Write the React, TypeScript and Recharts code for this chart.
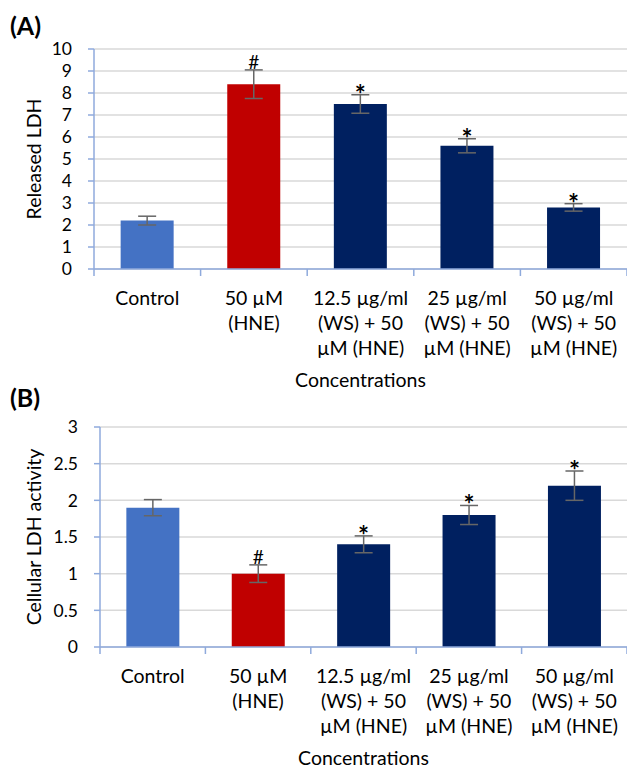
import React from "react";
import { BarChart, Bar, XAxis, YAxis, CartesianGrid, Cell, ErrorBar, LabelList } from "recharts";

const categories = [
  "Control",
  "50 µM (HNE)",
  "12.5 µg/ml (WS) + 50 µM (HNE)",
  "25 µg/ml (WS) + 50 µM (HNE)",
  "50 µg/ml (WS) + 50 µM (HNE)",
];
const categoryLines = [
  ["Control"],
  ["50 µM", "(HNE)"],
  ["12.5 µg/ml", "(WS) + 50", "µM (HNE)"],
  ["25 µg/ml", "(WS) + 50", "µM (HNE)"],
  ["50 µg/ml", "(WS) + 50", "µM (HNE)"],
];
const releasedLDH = [2.2, 8.4, 7.5, 5.6, 2.8];
const releasedErr = [0.2, 0.65, 0.42, 0.32, 0.17];
const cellularLDH = [1.9, 1.0, 1.4, 1.8, 2.2];
const cellularErr = [0.11, 0.12, 0.115, 0.13, 0.2];
const marksA = ["", "#", "*", "*", "*"];
const marksB = ["", "#", "*", "*", "*"];
const ticksA = [0, 1, 2, 3, 4, 5, 6, 7, 8, 9, 10];
const ticksB = [0, 0.5, 1, 1.5, 2, 2.5, 3];

const barColors = ["#4472C4", "#C00000", "#002060", "#002060", "#002060"];
const AXIS_COLOR = "#8FAADC";
const GRID_COLOR = "#D9D9D9";
const FONT = "Lato, 'Open Sans', sans-serif";
const CHART_W = 627;

const dataA = categories.map((name, i) => ({ name, value: releasedLDH[i], err: releasedErr[i], mark: marksA[i] }));
const dataB = categories.map((name, i) => ({ name, value: cellularLDH[i], err: cellularErr[i], mark: marksB[i] }));

function makeTick(plotW: number) {
  return (props: any) => {
    const { x, y, payload, index } = props;
    const idx = typeof index === "number" ? index : payload.index;
    const bw = plotW / categories.length;
    const lines = categoryLines[idx] || [String(payload.value)];
    return (
      <g>
        <line x1={x - bw / 2} x2={x - bw / 2} y1={y} y2={y + 7} stroke={AXIS_COLOR} strokeWidth={1.5} />
        {idx === categories.length - 1 && (
          <line x1={x + bw / 2} x2={x + bw / 2} y1={y} y2={y + 7} stroke={AXIS_COLOR} strokeWidth={1.5} />
        )}
        <text textAnchor="middle" fontFamily={FONT} fontSize={19.5} fill="#000">
          {lines.map((l, i) => (
            <tspan key={i} x={x} y={y + 36 + 25 * i}>
              {l}
            </tspan>
          ))}
        </text>
      </g>
    );
  };
}

function makeMark(vals: number[], errs: number[]) {
  return (props: any) => {
    const vb = props.viewBox || {};
    const x = props.x ?? vb.x;
    const y = props.y ?? vb.y;
    const width = props.width ?? vb.width;
    const height = props.height ?? vb.height;
    const idx = props.index;
    const value = props.value;
    if (!value) return null;
    const pxPerUnit = height / vals[idx];
    const errTop = y - errs[idx] * pxPerUnit;
    const isStar = value === "*";
    return (
      <text
        x={x + width / 2}
        y={isStar ? errTop + 9 : errTop - 1}
        textAnchor="middle"
        fontFamily={FONT}
        fontSize={isStar ? 26 : 19}
        fontWeight={isStar ? 700 : 400}
        fill="#000"
      >
        {value}
      </text>
    );
  };
}

function yLabel(text: string) {
  return (props: any) => {
    const vb = props.viewBox || {};
    const cx = vb.x + 41;
    const cy = vb.y + vb.height / 2;
    return (
      <text
        x={cx}
        y={cy}
        transform={`rotate(-90 ${cx} ${cy})`}
        textAnchor="middle"
        fontFamily={FONT}
        fontSize={19.5}
        fill="#000"
      >
        {text}
      </text>
    );
  };
}

function xLabel(props: any) {
  const vb = props.viewBox || {};
  return (
    <text x={vb.x + vb.width / 2} y={vb.y + 118} textAnchor="middle" fontFamily={FONT} fontSize={19.5} fill="#000">
      Concentrations
    </text>
  );
}

function Panel(props: {
  data: any[];
  height: number;
  top: number;
  yWidth: number;
  xHeight: number;
  ticks: number[];
  max: number;
  vals: number[];
  errs: number[];
  ylabel: string;
}) {
  const { data, height, top, yWidth, xHeight, ticks, max, vals, errs, ylabel } = props;
  const plotW = CHART_W - yWidth;
  return (
    <BarChart
      width={CHART_W}
      height={height}
      data={data}
      margin={{ top, right: 0, bottom: 0, left: 0 }}
      barCategoryGap="25%"
    >
      <CartesianGrid vertical={false} stroke={GRID_COLOR} strokeWidth={1.5} />
      <XAxis
        dataKey="name"
        height={xHeight}
        axisLine={{ stroke: AXIS_COLOR, strokeWidth: 1.5 }}
        tickLine={false}
        tickSize={0}
        tickMargin={0}
        interval={0}
        tick={makeTick(plotW)}
        label={xLabel}
      />
      <YAxis
        width={yWidth}
        domain={[0, max]}
        ticks={ticks}
        interval={0}
        axisLine={{ stroke: AXIS_COLOR, strokeWidth: 1.5 }}
        tickLine={{ stroke: AXIS_COLOR, strokeWidth: 1.5 }}
        tickSize={6}
        tickMargin={16}
        tick={{ fontFamily: FONT, fontSize: 17.5, fill: "#000" }}
        label={yLabel(ylabel)}
      />
      <Bar dataKey="value" isAnimationActive={false}>
        {data.map((_, i) => (
          <Cell key={i} fill={barColors[i]} />
        ))}
        <ErrorBar dataKey="err" width={9} stroke="#666666" strokeWidth={1.5} isAnimationActive={false} />
        <LabelList dataKey="mark" content={makeMark(vals, errs)} />
      </Bar>
    </BarChart>
  );
}

export default function App() {
  return (
    <div style={{ position: "absolute", left: 0, top: 0, width: CHART_W, height: 769, background: "#fff" }}>
      <div style={{ position: "absolute", left: 0, top: 0 }}>
        <Panel
          data={dataA}
          height={392}
          top={49}
          yWidth={94}
          xHeight={123}
          ticks={ticksA}
          max={10}
          vals={releasedLDH}
          errs={releasedErr}
          ylabel="Released LDH"
        />
      </div>
      <div style={{ position: "absolute", left: 0, top: 392 }}>
        <Panel
          data={dataB}
          height={377}
          top={35}
          yWidth={100}
          xHeight={122}
          ticks={ticksB}
          max={3}
          vals={cellularLDH}
          errs={cellularErr}
          ylabel="Cellular LDH activity"
        />
      </div>
      <div
        style={{
          position: "absolute",
          left: 10,
          top: 13,
          fontFamily: FONT,
          fontWeight: 700,
          fontSize: 25,
          lineHeight: "25px",
          color: "#000",
        }}
      >
        (A)
      </div>
      <div
        style={{
          position: "absolute",
          left: 10,
          top: 385,
          fontFamily: FONT,
          fontWeight: 700,
          fontSize: 25,
          lineHeight: "25px",
          color: "#000",
        }}
      >
        (B)
      </div>
    </div>
  );
}
